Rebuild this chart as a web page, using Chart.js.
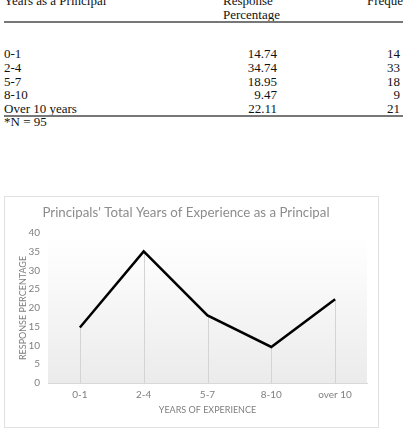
<!DOCTYPE html>
<html>
<head>
<meta charset="utf-8">
<script src="https://cdn.jsdelivr.net/npm/chart.js@4"></script>
<style>
    body { margin: 0; width: 403px; height: 428px; overflow: hidden; background: #fff; position: relative; }
    .tbl { position: absolute; font-family: "Liberation Serif", "Times New Roman", serif; font-size: 13px; color: #111; white-space: nowrap; line-height: 13px; }
    .rule { position: absolute; left: 4px; width: 399px; height: 2px; background: #777; }
    #chart-box { position: absolute; left: 4px; top: 196px; width: 373px; height: 230px; border: 1px solid #e0e0e0; }
</style>
</head>
<body>
<div id="table-area"></div>
<div class="rule" style="top:21px"></div>
<div class="rule" style="top:115px"></div>
<div id="chart-box"><canvas id="expChart"></canvas></div>

<script>
// --- Data ---
const tableRows = ['0-1', '2-4', '5-7', '8-10', 'Over 10 years'];
const tablePercent = ['14.74', '34.74', '18.95', '9.47', '22.11'];
const tableFreq = ['14', '33', '18', '9', '21'];

const categories = ['0-1', '2-4', '5-7', '8-10', 'over 10'];
const responsePct = [14.8, 35.1, 18.0, 9.6, 22.3];
const yTicks = [0, 5, 10, 15, 20, 25, 30, 35, 40];

document.addEventListener('DOMContentLoaded', () => {

    // --- Table text ---
    const area = document.getElementById('table-area');
    const put = (text, x, y, align) => {
        const d = document.createElement('div');
        d.className = 'tbl';
        d.textContent = text;
        d.style.top = (y - 7) + 'px';
        if (align === 'right') d.style.right = (403 - x) + 'px';
        else d.style.left = x + 'px';
        area.appendChild(d);
    };
    put('Years as a Principal', 4, 1);
    put('Response', 223, 1);
    put('Percentage', 223, 15);
    put('Frequency', 367, 1);
    tableRows.forEach((r, i) => {
        const y = 54 + i * 13.8;
        put(r, 4, y);
        put(tablePercent[i], 277, y, 'right');
        put(tableFreq[i], 400, y, 'right');
    });
    put('*N = 95', 4, 122);

    // --- Chart ---
    const bgPlugin = {
        id: 'plotBg',
        beforeDraw(chart) {
            const { ctx, chartArea: a } = chart;
            const g = ctx.createLinearGradient(0, a.top, 0, a.bottom);
            g.addColorStop(0, '#ffffff');
            g.addColorStop(0.3, '#fafafa');
            g.addColorStop(1, '#ebebeb');
            ctx.save();
            ctx.fillStyle = g;
            ctx.fillRect(a.left, a.top, a.right - a.left, a.bottom - a.top);
            ctx.restore();
        }
    };
    const dropLines = {
        id: 'dropLines',
        beforeDatasetsDraw(chart) {
            const { ctx } = chart;
            const base = chart.scales.y.getPixelForValue(0);
            ctx.save();
            ctx.strokeStyle = '#d4d4d4';
            ctx.lineWidth = 1;
            chart.getDatasetMeta(0).data.forEach(p => {
                ctx.beginPath();
                ctx.moveTo(Math.round(p.x) + 0.5, p.y);
                ctx.lineTo(Math.round(p.x) + 0.5, base);
                ctx.stroke();
            });
            ctx.restore();
        }
    };

    const font = "Lato, 'Open Sans', sans-serif";
    new Chart(document.getElementById('expChart'), {
        type: 'line',
        data: {
            labels: categories,
            datasets: [{
                data: responsePct,
                borderColor: '#000',
                borderWidth: 2.5,
                pointRadius: 0,
                tension: 0,
                fill: false
            }]
        },
        options: {
            responsive: true,
            maintainAspectRatio: false,
            animation: false,
            layout: { padding: { left: 0, right: 11, top: 0, bottom: 0 } },
            plugins: {
                legend: { display: false },
                tooltip: { enabled: false },
                title: {
                    display: true,
                    text: "Principals' Total Years of Experience as a Principal",
                    color: '#8c8c8c',
                    font: { family: font, size: 13.3, weight: 'normal' },
                    padding: { top: 8, bottom: 12 }
                }
            },
            scales: {
                x: {
                    offset: true,
                    afterFit: axis => { axis.height = 44; },
                    grid: { display: false, drawTicks: false },
                    border: { display: true, color: '#d9d9d9' },
                    ticks: { color: '#7f7f7f', font: { family: font, size: 10 }, padding: 6 },
                    title: {
                        display: true, text: 'YEARS OF EXPERIENCE', color: '#7f7f7f',
                        font: { family: font, size: 9 }, padding: { top: 0, bottom: 12 }
                    }
                },
                y: {
                    min: 0, max: 40,
                    afterFit: axis => { axis.width = 43; },
                    afterBuildTicks: axis => { axis.ticks = yTicks.map(v => ({ value: v })); },
                    grid: { display: false, drawTicks: false },
                    border: { display: false },
                    ticks: { color: '#7f7f7f', font: { family: font, size: 10 }, padding: 8 },
                    title: {
                        display: true, text: 'RESPONSE PERCENTAGE', color: '#7f7f7f',
                        font: { family: font, size: 9 }, padding: { top: 13, bottom: 0 }
                    }
                }
            }
        },
        plugins: [bgPlugin, dropLines]
    });
});
</script>
</body>
</html>
